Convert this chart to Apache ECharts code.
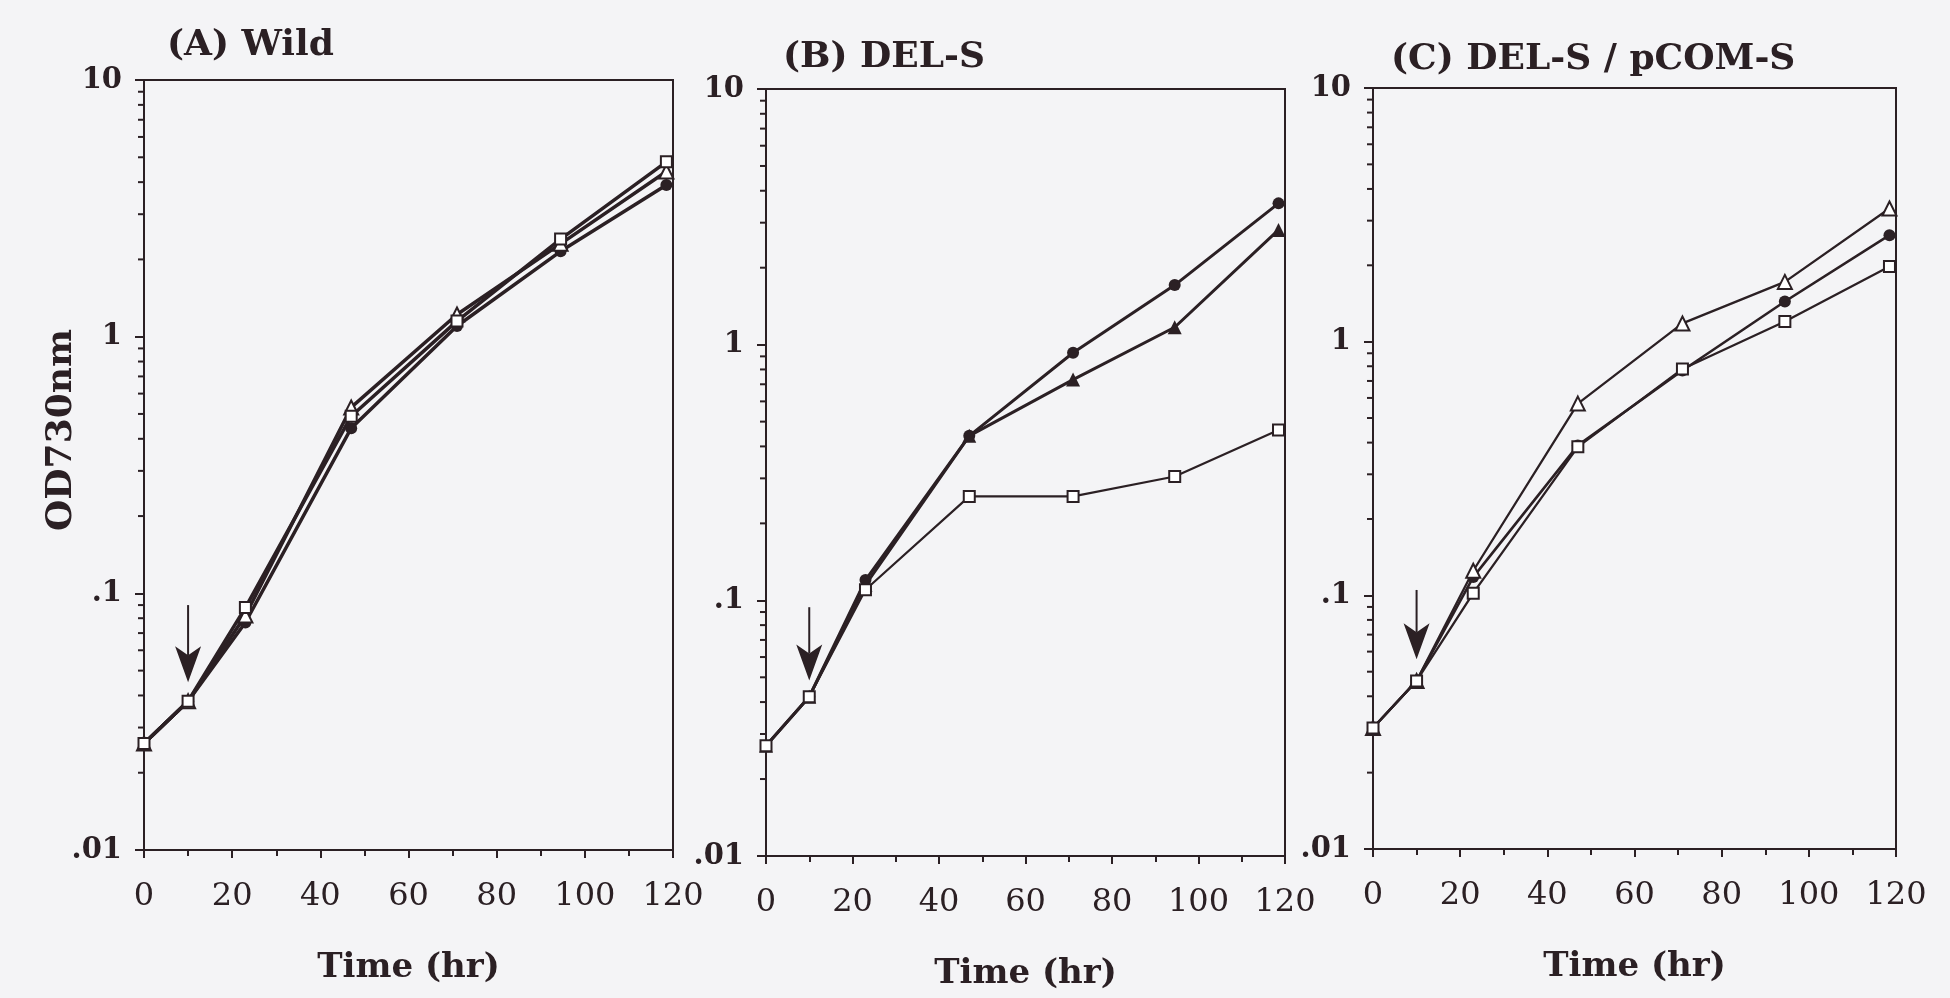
<!DOCTYPE html>
<html><head><meta charset="utf-8">
<script src="https://cdn.jsdelivr.net/npm/echarts@6/dist/echarts.min.js"></script>
<style>html,body{margin:0;padding:0;background:#f4f4f6}#c{width:1950px;height:998px}</style>
</head><body><div id="c"></div>
<script>
// ---- data ----
const times = [0, 10, 23, 47, 71, 94.5, 118.5];
const xTickInterval = 20;
const yTickLabels = ['.01', '.1', '1', '10'];
const panelTitles = ['(A) Wild', '(B) DEL-S', '(C) DEL-S / pCOM-S'];
const xName = 'Time (hr)';
const yName = 'OD730nm';
// Panel A (Wild)
const wildCircle   = [0.026, 0.038, 0.077, 0.44, 1.10, 2.15, 3.9];
const wildTriangle = [0.026, 0.038, 0.082, 0.53, 1.22, 2.30, 4.4];
const wildSquare   = [0.026, 0.038, 0.088, 0.49, 1.15, 2.40, 4.8];
// Panel B (DEL-S)
const delCircle   = [0.027, 0.042, 0.120, 0.44, 0.93, 1.71, 3.57];
const delTriangle = [0.027, 0.042, 0.115, 0.44, 0.73, 1.17, 2.81];
const delSquare   = [0.027, 0.042, 0.110, 0.255, 0.255, 0.305, 0.464];
// Panel C (DEL-S / pCOM-S)
const comCircle   = [0.030, 0.046, 0.118, 0.39, 0.77, 1.44, 2.63];
const comTriangle = [0.030, 0.046, 0.125, 0.57, 1.18, 1.72, 3.35];
const comSquare   = [0.030, 0.046, 0.102, 0.385, 0.78, 1.20, 1.98];
// arrows: [time, top value, tip value]
const arrowA = [10, 0.090, 0.045];
const arrowB = [10, 0.094, 0.0486];
const arrowC = [10, 0.105, 0.056];
// log minor tick values
const yMinorTicks = [0.02,0.03,0.04,0.05,0.06,0.07,0.08,0.09,
                     0.2,0.3,0.4,0.5,0.6,0.7,0.8,0.9,
                     2,3,4,5,6,7,8,9];

// ---- styling ----
const ink = '#2b2024';
const bg = '#f4f4f6';
const serif = 'DejaVu Serif';

const grids = [
  {left:144, top:80, width:529, height:770},
  {left:766, top:89, width:519, height:767},
  {left:1373, top:88, width:523, height:761}
];
const titlePos = [{left:167, top:28}, {left:783, top:40}, {left:1391, top:42}];

function lineSeries(gi, values, kind, width, z) {
  const s = {
    type:'line', xAxisIndex:gi, yAxisIndex:gi, z:z,
    data: times.map((t,i)=>[t, values[i]]),
    lineStyle:{color:ink, width:width},
    showSymbol:true, animation:false, silent:true
  };
  if (kind === 'circle') { s.symbol='circle'; s.symbolSize=12; s.itemStyle={color:ink}; }
  if (kind === 'triFilled') { s.symbol='triangle'; s.symbolSize=14; s.itemStyle={color:ink}; }
  if (kind === 'triOpen') { s.symbol='triangle'; s.symbolSize=14; s.itemStyle={color:'#fff', borderColor:ink, borderWidth:2}; }
  if (kind === 'square') { s.symbol='rect'; s.symbolSize=11; s.itemStyle={color:'#fff', borderColor:ink, borderWidth:2}; }
  return s;
}

function minorTickSeries(gi) {
  return {
    type:'custom', xAxisIndex:gi, yAxisIndex:gi, silent:true, clip:false, z:1, animation:false,
    data: yMinorTicks.map(v=>[0, v]),
    renderItem:(params, api)=>{
      const p = api.coord([api.value(0), api.value(1)]);
      return {type:'line', shape:{x1:p[0]-6, y1:p[1], x2:p[0], y2:p[1]}, style:{stroke:ink, lineWidth:2}};
    }
  };
}

function arrowSeries(gi, a) {
  return {
    type:'custom', xAxisIndex:gi, yAxisIndex:gi, silent:true, clip:false, z:6, animation:false,
    dimensions:['t','top','tip'], encode:{x:0, y:[1,2]},
    data:[a],
    renderItem:(params, api)=>{
      const top = api.coord([api.value(0), api.value(1)]);
      const tip = api.coord([api.value(0), api.value(2)]);
      const hw = 13, hh = 36, notch = 9;
      return {type:'group', children:[
        {type:'line', shape:{x1:top[0], y1:top[1], x2:tip[0], y2:tip[1]-hh+notch}, style:{stroke:ink, lineWidth:2}},
        {type:'polygon', shape:{points:[[tip[0],tip[1]],[tip[0]-hw,tip[1]-hh],[tip[0],tip[1]-hh+notch],[tip[0]+hw,tip[1]-hh]]}, style:{fill:ink}}
      ]};
    }
  };
}

const option = {
  backgroundColor: bg,
  animation:false,
  title: panelTitles.map((t,i)=>({
    text:t, left:titlePos[i].left, top:titlePos[i].top, padding:0,
    textStyle:{fontFamily:serif, fontWeight:'bold', fontSize:36, color:ink}
  })),
  grid: grids.map(g=>Object.assign({show:true, borderColor:ink, borderWidth:2, backgroundColor:'transparent'}, g)),
  xAxis: grids.map((g,i)=>({
    gridIndex:i, type:'value', min:0, max:120, interval:xTickInterval,
    axisLine:{show:true, onZero:false, lineStyle:{color:ink, width:2}},
    axisTick:{show:true, length:8, lineStyle:{color:ink, width:2}},
    minorTick:{show:true, splitNumber:2, length:6, lineStyle:{color:ink, width:2}},
    splitLine:{show:false},
    axisLabel:{color:ink, fontFamily:serif, fontSize:32, margin:31},
    name:xName, nameLocation:'middle', nameGap:101, nameMoveOverlap:false,
    nameTextStyle:{color:ink, fontFamily:serif, fontWeight:'bold', fontSize:34}
  })),
  yAxis: grids.map((g,i)=>({
    gridIndex:i, type:'log', logBase:10, min:0.01, max:10,
    axisLine:{show:true, onZero:false, lineStyle:{color:ink, width:2}},
    axisTick:{show:true, length:9, lineStyle:{color:ink, width:2}},
    minorTick:{show:false}, splitLine:{show:false},
    axisLabel:{color:ink, fontFamily:serif, fontWeight:'bold', fontSize:29, margin:22,
      formatter:(v)=>yTickLabels[Math.round(Math.log10(v))+2]},
    name: i===0 ? yName : '', nameLocation:'middle', nameGap:64, nameRotate:90, nameMoveOverlap:false,
    nameTextStyle:{color:ink, fontFamily:serif, fontWeight:'bold', fontSize:36, padding:[0,0,0,70]}
  })),
  series: [
    minorTickSeries(0), minorTickSeries(1), minorTickSeries(2),
    lineSeries(0, wildCircle, 'circle', 3.5, 3),
    lineSeries(0, wildTriangle, 'triOpen', 3.5, 4),
    lineSeries(0, wildSquare, 'square', 3.5, 5),
    lineSeries(1, delCircle, 'circle', 3, 3),
    lineSeries(1, delTriangle, 'triFilled', 3, 4),
    lineSeries(1, delSquare, 'square', 2.2, 5),
    lineSeries(2, comCircle, 'circle', 2.6, 3),
    lineSeries(2, comTriangle, 'triOpen', 2.3, 4),
    lineSeries(2, comSquare, 'square', 2.3, 5),
    arrowSeries(0, arrowA), arrowSeries(1, arrowB), arrowSeries(2, arrowC)
  ]
};
const chart = echarts.init(document.getElementById('c'), null, {renderer:'canvas'});
chart.setOption(option);
</script></body></html>
